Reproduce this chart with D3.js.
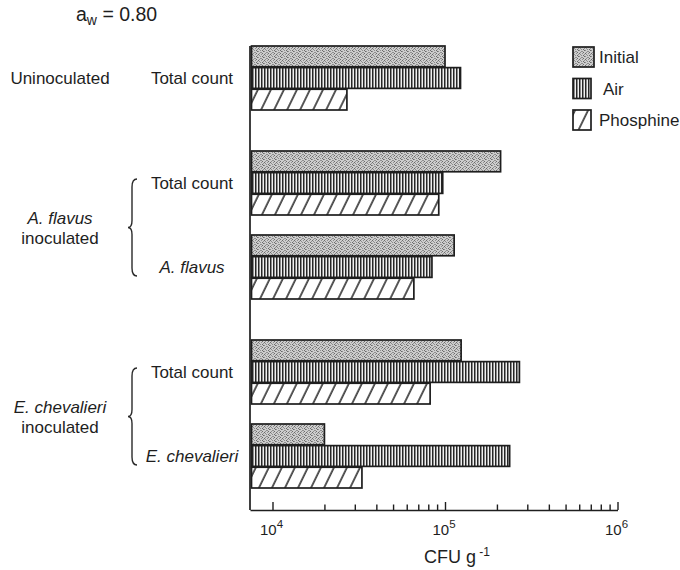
<!DOCTYPE html>
<html>
<head>
<meta charset="utf-8">
<script src="https://cdn.jsdelivr.net/npm/d3@7"></script>
<style>
  html, body { margin: 0; padding: 0; background: #fff; }
  svg { display: block; font-family: "Liberation Sans", Arial, Helvetica, sans-serif; }
  text { fill: #1e1e1e; }
</style>
</head>
<body>
<svg id="chart" width="680" height="570"></svg>
<script>
// Colony counts (CFU per gram) at water activity 0.80
const series = ["Initial", "Air", "Phosphine"];
const rowKeys = ["unTotal", "afTotal", "afFlavus", "ecTotal", "ecChev"];
const rowLabels = ["Total count", "Total count", "A. flavus", "Total count", "E. chevalieri"];
const rowItalic = [false, false, true, false, true];
const rowGroup = [0, 1, 1, 2, 2];
const groupLabels = [["Uninoculated"], ["A. flavus", "inoculated"], ["E. chevalieri", "inoculated"]];
const groupItalic = [[false], [true, false], [true, false]];
const initialValues = [1.0e5, 2.1e5, 1.13e5, 1.24e5, 2.0e4];
const airValues = [1.23e5, 9.7e4, 8.4e4, 2.7e5, 2.37e5];
const phosphineValues = [2.7e4, 9.2e4, 6.6e4, 8.2e4, 3.3e4];
const tickExponents = [4, 5, 6];

const valuesBySeries = { Initial: initialValues, Air: airValues, Phosphine: phosphineValues };

const svg = d3.select("#chart");

// Layout
const axisLeft = 250, axisRight = 617.5, axisY = 510, plotTop = 46;
const rowStep = 84, groupGap = 21, rowHeight = 64;

const x = d3.scaleLog().domain([Math.pow(10, 3.8696), 1e6]).range([axisLeft, axisRight]);
const rowTop = (i) => plotTop + i * rowStep + rowGroup[i] * groupGap;
const inner = d3.scaleBand().domain(series).range([0, rowHeight]).paddingInner(0.04);

// Fill patterns
const defs = svg.append("defs");

const stipple = defs.append("pattern").attr("id", "pat-initial")
  .attr("patternUnits", "userSpaceOnUse").attr("width", 6).attr("height", 6);
stipple.append("rect").attr("width", 6).attr("height", 6).attr("fill", "#cdcdcd");
[[0, 0], [3, 0], [1, 1], [4, 2], [2, 2], [0, 3], [5, 3], [3, 4], [1, 5], [4, 5], [5, 1], [2, 4]]
  .forEach(([px, py], k) => {
    stipple.append("rect").attr("x", px).attr("y", py).attr("width", 1).attr("height", 1)
      .attr("fill", k % 3 === 0 ? "#6a6a6a" : "#8e8e8e");
  });

const vert = defs.append("pattern").attr("id", "pat-air")
  .attr("patternUnits", "userSpaceOnUse").attr("width", 3).attr("height", 6);
vert.append("rect").attr("width", 3).attr("height", 6).attr("fill", "#f0f0f0");
vert.append("rect").attr("x", 0).attr("width", 1.5).attr("height", 6).attr("fill", "#262626");

const hatch = defs.append("pattern").attr("id", "pat-phosphine")
  .attr("patternUnits", "userSpaceOnUse").attr("width", 11.7).attr("height", 20)
  .attr("patternTransform", "rotate(26)");
hatch.append("rect").attr("width", 11.7).attr("height", 20).attr("fill", "#fff");
hatch.append("line").attr("x1", 2).attr("x2", 2).attr("y1", 0).attr("y2", 20)
  .attr("stroke", "#222").attr("stroke-width", 1.5);

const fills = { Initial: "url(#pat-initial)", Air: "url(#pat-air)", Phosphine: "url(#pat-phosphine)" };

// Bars
const bars = [];
rowKeys.forEach((key, i) => {
  series.forEach((s) => bars.push({ row: i, series: s, value: valuesBySeries[s][i] }));
});

svg.append("g").selectAll("rect").data(bars).join("rect")
  .attr("x", x.range()[0] + 1.5)
  .attr("y", (d) => rowTop(d.row) + inner(d.series))
  .attr("width", (d) => x(d.value) - x.range()[0] - 1.5)
  .attr("height", inner.bandwidth())
  .attr("fill", (d) => fills[d.series])
  .attr("stroke", "#1e1e1e").attr("stroke-width", 1.7);

// Vertical baseline and log axis with upward ticks
svg.append("line").attr("x1", axisLeft).attr("x2", axisLeft).attr("y1", plotTop).attr("y2", axisY)
  .attr("stroke", "#1e1e1e").attr("stroke-width", 1.7);

const minorTicks = [];
for (let e = 4; e < 6; e++) for (let m = 1; m <= 9; m++) minorTicks.push(m * Math.pow(10, e));
minorTicks.push(1e6);

const axis = d3.axisBottom(x).tickValues(minorTicks).tickSizeInner(-6).tickSizeOuter(0).tickFormat("");
const axisG = svg.append("g").attr("transform", `translate(0,${axisY})`).call(axis);
axisG.select(".domain").attr("stroke", "#1e1e1e").attr("stroke-width", 1.7);
axisG.selectAll(".tick line").attr("stroke", "#1e1e1e").attr("stroke-width", 1.4)
  .attr("y2", (d) => tickExponents.some((e) => Math.abs(Math.pow(10, e) - d) < 1) ? -8 : -5.5);

// Decade labels
const tickLabel = svg.append("g").selectAll("text").data(tickExponents).join("text")
  .attr("x", (e) => x(Math.pow(10, e)) - 1)
  .attr("y", 535)
  .attr("text-anchor", "middle")
  .attr("font-size", 15);
tickLabel.append("tspan").text("10");
tickLabel.append("tspan").attr("dy", -7).attr("font-size", 11.5).text((e) => e);

// Axis title
const xt = svg.append("text").attr("x", 457).attr("y", 563).attr("text-anchor", "middle").attr("font-size", 18);
xt.append("tspan").text("CFU g");
xt.append("tspan").attr("dy", -7).attr("font-size", 12).text(" -1");

// Water activity heading
const head = svg.append("text").attr("x", 76).attr("y", 21).attr("font-size", 19.5);
head.append("tspan").text("a");
head.append("tspan").attr("dy", 4).attr("font-size", 14).text("w");
head.append("tspan").attr("dy", -4).text(" = 0.80");

// Row labels
const rowCenter = (i) => rowTop(i) + rowHeight / 2;
svg.append("g").selectAll("text").data(rowLabels).join("text")
  .attr("x", 192)
  .attr("y", (d, i) => rowCenter(i) + 6)
  .attr("text-anchor", "middle")
  .attr("font-size", 17)
  .attr("font-style", (d, i) => rowItalic[i] ? "italic" : "normal")
  .text((d) => d);

// Group labels with braces
groupLabels.forEach((lines, g) => {
  const rows = rowGroup.map((gg, i) => gg === g ? i : -1).filter((i) => i >= 0);
  const c0 = rowCenter(rows[0]), c1 = rowCenter(rows[rows.length - 1]);
  const mid = (c0 + c1) / 2 + (rows.length > 1 ? 3 : 0);
  const t = svg.append("text").attr("x", 60).attr("text-anchor", "middle").attr("font-size", 17);
  lines.forEach((ln, k) => {
    t.append("tspan").attr("x", 60)
      .attr("y", mid + 6 + (k - (lines.length - 1) / 2) * 19.5)
      .attr("font-style", groupItalic[g][k] ? "italic" : "normal")
      .text(ln);
  });
  if (rows.length > 1) {
    const y0 = c0 - 4, y1 = c1 + 9, ym = (y0 + y1) / 2, bx = 128;
    const p = d3.path();
    p.moveTo(bx + 9, y0);
    p.quadraticCurveTo(bx + 4, y0, bx + 4, y0 + 8);
    p.lineTo(bx + 4, ym - 7);
    p.quadraticCurveTo(bx + 4, ym, bx, ym);
    p.quadraticCurveTo(bx + 4, ym, bx + 4, ym + 7);
    p.lineTo(bx + 4, y1 - 8);
    p.quadraticCurveTo(bx + 4, y1, bx + 9, y1);
    svg.append("path").attr("d", p.toString()).attr("fill", "none")
      .attr("stroke", "#2a2a2a").attr("stroke-width", 1.4);
  }
});

// Legend
const legend = svg.append("g");
const legendRows = legend.selectAll("g").data(series).join("g")
  .attr("transform", (d, i) => `translate(573,${47 + i * 31.5})`);
legendRows.append("rect")
  .attr("width", (d, i) => i === 0 ? 21 : 18)
  .attr("height", 20)
  .attr("fill", (d) => fills[d])
  .attr("stroke", "#1e1e1e").attr("stroke-width", 1.7);
legendRows.append("text")
  .attr("x", (d, i) => i === 1 ? 30 : 26)
  .attr("y", 16)
  .attr("font-size", 17)
  .text((d) => d);
</script>
</body>
</html>
